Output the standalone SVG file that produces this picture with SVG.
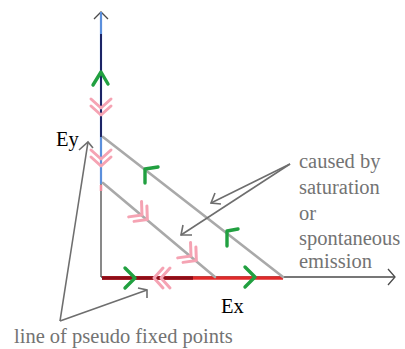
<svg xmlns="http://www.w3.org/2000/svg" width="405" height="349" viewBox="0 0 405 349">
<defs>
<style>
.axis{stroke:#4a4a4a;stroke-width:1.3;fill:none}
.diag{stroke:#a9a9a9;stroke-width:2.6;fill:none;stroke-linecap:round}
.note{stroke:#6e6e6e;stroke-width:1.6;fill:none;stroke-linejoin:miter}
.green{stroke:#21a040;stroke-width:3.4;fill:none;stroke-linecap:round;stroke-linejoin:round}
.pink{stroke:#f5a3b3;stroke-width:3;fill:none;stroke-linecap:round;stroke-linejoin:round}
.lbl{fill:#000;font-size:20.5px}
.gl{fill:#737373;font-size:20.5px}
</style>
<path id="gch" d="M-10,-10 L0,0 L-10,10"/>
<path id="pch2" d="M-9,-10 L0,0 L-9,10 M-2,-10 L7,0 L-2,10"/>
</defs>

<g id="axes">
<line class="axis" x1="101" y1="277" x2="101" y2="12"/>
<path class="axis" d="M94,19 L101,12 L108,19"/>
<line class="axis" x1="101" y1="277" x2="394" y2="277"/>
<path class="axis" d="M388,269 L395,277 L388,285"/>
</g>

<g id="y-axis-flow">
<line x1="101" y1="12" x2="101" y2="184" stroke="#5b8fdc" stroke-width="2.2"/>
<line x1="101" y1="34" x2="101" y2="137" stroke="#1c2466" stroke-width="2"/>
<line x1="101" y1="185" x2="101" y2="191" stroke="#f08a9c" stroke-width="2.5"/>
</g>

<g id="x-axis-fixed-points">
<line x1="102" y1="278" x2="283" y2="278" stroke="#e02a2a" stroke-width="3.5"/>
<line x1="102" y1="278" x2="193" y2="278" stroke="#8e0d18" stroke-width="3.5"/>
</g>

<g id="trajectories">
<line class="diag" x1="103" y1="137" x2="283" y2="277"/>
<line class="diag" x1="103" y1="183" x2="215" y2="277"/>
</g>

<g id="flow-markers">
<path class="green" d="M93,85 L101,72 L108,84"/>
<use href="#pch2" class="pink" transform="translate(101,108) rotate(90)"/>
<use href="#pch2" class="pink" transform="translate(101,159) rotate(90)"/>
<path class="green" d="M158,167 L145,169 L145,183"/>
<path class="green" d="M238,229 L227,231 L227,246"/>
<use href="#pch2" class="pink" transform="translate(142,215) rotate(40)"/>
<use href="#pch2" class="pink" transform="translate(191,256) rotate(40)"/>
<use href="#gch" class="green" transform="translate(135,278)"/>
<use href="#gch" class="green" transform="translate(255,277)"/>
<use href="#pch2" class="pink" transform="translate(161,278) rotate(180)"/>
</g>

<g id="connectors">
<path class="note" d="M290,164 L211,203"/>
<path class="note" d="M215,193 L211,203 L221,204"/>
<path class="note" d="M290,164 L181,235"/>
<path class="note" d="M183,225 L181,235 L192,235"/>
<path class="note" d="M60,321 L88,142"/>
<path class="note" d="M79,150 L88,142 L93,148"/>
<path class="note" d="M60,321 L147,290"/>
<path class="note" d="M138,288 L147,290 L147,298"/>
</g>

<g id="labels" font-family="Liberation Serif, Times New Roman, serif">
<text class="lbl" x="56" y="146">Ey</text>
<text class="lbl" x="221" y="313">Ex</text>
<text class="gl" x="299" y="168">caused by</text>
<text class="gl" x="299" y="194">saturation</text>
<text class="gl" x="299" y="220">or</text>
<text class="gl" x="299" y="245">spontaneous</text>
<text class="gl" x="299" y="268">emission</text>
<text class="gl" x="14" y="343">line of pseudo fixed points</text>
</g>
</svg>
